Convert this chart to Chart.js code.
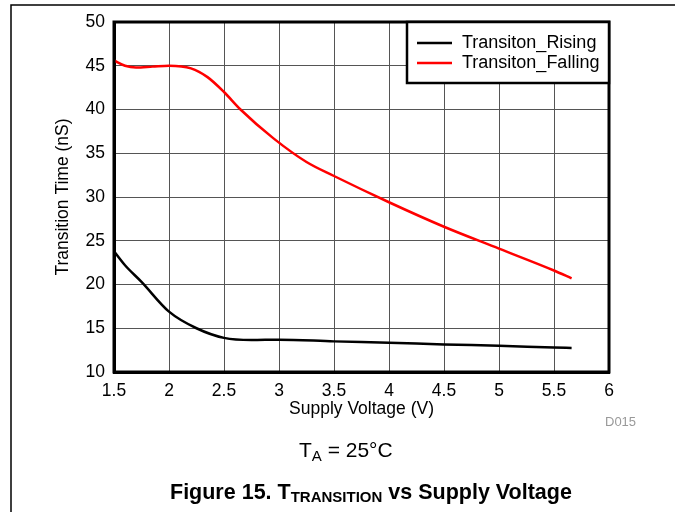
<!DOCTYPE html>
<html>
<head>
<meta charset="utf-8">
<script src="https://cdn.jsdelivr.net/npm/chart.js@4"></script>
<style>
  body { margin: 0; background: #fff; }
  #wrap { width: 675px; height: 512px; }
</style>
</head>
<body>
<div id="wrap"><canvas id="myChart" width="675" height="512"></canvas></div>
<script>
// data
const xTicks = [1.5, 2, 2.5, 3, 3.5, 4, 4.5, 5, 5.5, 6];
const yTicks = [10, 15, 20, 25, 30, 35, 40, 45, 50];

const risingV = [1.5, 1.6, 1.75, 2.0, 2.25, 2.5, 2.75, 3.0, 3.5, 4.0, 4.5, 5.0, 5.5, 5.66];
const risingT = [23.8, 22.2, 20.3, 16.9, 15.0, 13.9, 13.65, 13.7, 13.5, 13.35, 13.15, 13.0, 12.8, 12.75];

const fallingV = [1.5, 1.6, 1.7, 1.85, 2.0, 2.2, 2.35, 2.5, 2.65, 2.95, 3.25, 3.5, 4.0, 4.5, 5.0, 5.5, 5.66];
const fallingT = [45.6, 45.0, 44.8, 44.9, 45.0, 44.7, 43.7, 42.0, 40.0, 36.7, 34.0, 32.4, 29.4, 26.6, 24.1, 21.6, 20.7];

const FONT = 'Liberation Sans, Arial, sans-serif';

const toPoints = (xs, ys) => xs.map((x, i) => ({ x: x, y: ys[i] }));

//frame, legend and captions
const extras = {
  id: 'extras',
  afterDatasetsDraw(chart) {
    const ctx = chart.ctx;
    const a = chart.chartArea;
    ctx.save();
    // plot border
    ctx.strokeStyle = '#000';
    ctx.lineWidth = 3;
    ctx.strokeRect(a.left, a.top, a.right - a.left, a.bottom - a.top);

    // legend box in the top right corner
    const lx = 407, ly = a.top, lw = a.right - 407, lh = 61;
    ctx.fillStyle = '#fff';
    ctx.fillRect(lx, ly, lw, lh);
    ctx.lineWidth = 2.5;
    ctx.strokeRect(lx, ly, lw, lh);
    ctx.font = '18px ' + FONT;
    ctx.textBaseline = 'middle';
    chart.data.datasets.forEach((ds, i) => {
      const y = ly + 21 + i * 20;
      ctx.strokeStyle = ds.borderColor;
      ctx.lineWidth = 2.5;
      ctx.beginPath();
      ctx.moveTo(417, y);
      ctx.lineTo(452, y);
      ctx.stroke();
      ctx.fillStyle = '#000';
      ctx.fillText(ds.label, 462, y);
    });

    // outer frame
    ctx.strokeStyle = '#000';
    ctx.lineWidth = 1.5;
    ctx.beginPath();
    ctx.moveTo(11, 512);
    ctx.lineTo(11, 5);
    ctx.lineTo(675, 5);
    ctx.stroke();

    // id
    ctx.fillStyle = '#999';
    ctx.font = '13px ' + FONT;
    ctx.textAlign = 'left';
    ctx.fillText('D015', 605, 422);

    // T_A = 25°C
    ctx.fillStyle = '#000';
    let x = 299;
    ctx.font = '21px ' + FONT;
    ctx.fillText('T', x, 451);
    x += ctx.measureText('T').width;
    ctx.font = '15px ' + FONT;
    ctx.fillText('A', x, 457);
    x += ctx.measureText('A').width;
    ctx.font = '21px ' + FONT;
    ctx.fillText(' = 25°C', x, 451);

    // figure caption
    x = 170;
    ctx.font = 'bold 21.5px ' + FONT;
    ctx.fillText('Figure 15. T', x, 493);
    x += ctx.measureText('Figure 15. T').width;
    ctx.font = 'bold 15px ' + FONT;
    ctx.fillText('TRANSITION', x, 498);
    x += ctx.measureText('TRANSITION').width;
    ctx.font = 'bold 21.5px ' + FONT;
    ctx.fillText(' vs Supply Voltage', x, 493);
    ctx.restore();
  }
};

const noPad = (s) => {
  s.paddingTop = 0; s.paddingBottom = 0; s.paddingLeft = 0; s.paddingRight = 0;
};

const ctx = document.getElementById('myChart').getContext('2d');
window.myChart = new Chart(ctx, {
  type: 'line',
  data: {
    datasets: [
      {
        label: 'Transiton_Rising',
        data: toPoints(risingV, risingT),
        borderColor: '#000',
        borderWidth: 2.5,
        pointRadius: 0,
        cubicInterpolationMode: 'monotone',
        fill: false
      },
      {
        label: 'Transiton_Falling',
        data: toPoints(fallingV, fallingT),
        borderColor: '#ff0000',
        borderWidth: 2.5,
        pointRadius: 0,
        cubicInterpolationMode: 'monotone',
        fill: false
      }
    ]
  },
  options: {
    responsive: false,
    animation: false,
    layout: { padding: { left: 44, top: 22, right: 66, bottom: 92 } },
    plugins: {
      legend: { display: false },
      tooltip: { enabled: false }
    },
    scales: {
      x: {
        type: 'linear',
        min: 1.5,
        max: 6,
        afterBuildTicks: s => { s.ticks = xTicks.map(v => ({ value: v })); },
        afterFit: s => { s.height = 48; noPad(s); },
        grid: { color: '#555', lineWidth: 1, drawTicks: false },
        border: { color: '#000', width: 3 },
        ticks: { padding: 9, color: '#000', font: { family: FONT, size: 17.5 }, callback: v => String(v) },
        title: { display: true, text: 'Supply Voltage (V)', color: '#000', padding: 0, font: { family: FONT, size: 17.5 } }
      },
      y: {
        min: 10,
        max: 50,
        afterBuildTicks: s => { s.ticks = yTicks.map(v => ({ value: v })); },
        afterFit: s => { s.width = 70; noPad(s); },
        grid: { color: '#555', lineWidth: 1, drawTicks: false },
        border: { color: '#000', width: 3 },
        ticks: { padding: 9, color: '#000', font: { family: FONT, size: 17.5 }, callback: v => String(v) },
        title: { display: true, text: 'Transition Time (nS)', color: '#000', padding: { top: 9, bottom: 0 }, font: { family: FONT, size: 17.5 } }
      }
    }
  },
  plugins: [extras]
});
</script>
</body>
</html>
